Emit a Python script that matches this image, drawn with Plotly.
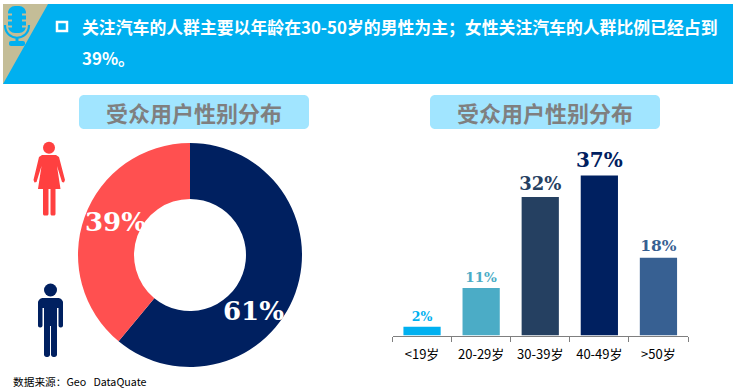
import plotly.graph_objects as go

W, H = 733, 389
CJK = "Noto Sans CJK SC"
SERIF = "DejaVu Serif"

headline_1 = "关注汽车的人群主要以年龄在30-50岁的男性为主；女性关注汽车的人群比例已经占到"
headline_2 = "39%。"
panel_title = "受众用户性别分布"
source_text = "数据来源：Geo   DataQuate"

gender_labels = ["男", "女"]
gender_values = [61, 39]
gender_colors = ["#002060", "#FF5050"]

age_labels = ["<19岁", "20-29岁", "30-39岁", "40-49岁", ">50岁"]
age_values = [2, 11, 32, 37, 18]
age_colors = ["#00B0F0", "#4BACC6", "#254061", "#002060", "#376092"]
age_font_sizes = [12.5, 13.5, 18, 20, 15.5]


def fx(x):
    return x / W


def fy(y):
    return 1 - y / H


def path(points):
    return "M" + " L".join(f"{fx(x):.5f},{fy(y):.5f}" for x, y in points) + " Z"


def rounded(x0, y0, x1, y1, r):
    k = 0.45 * r
    seq = [
        f"M{fx(x0 + r):.5f},{fy(y0):.5f}", f"L{fx(x1 - r):.5f},{fy(y0):.5f}",
        f"C{fx(x1 - k):.5f},{fy(y0):.5f} {fx(x1):.5f},{fy(y0 + k):.5f} {fx(x1):.5f},{fy(y0 + r):.5f}",
        f"L{fx(x1):.5f},{fy(y1 - r):.5f}",
        f"C{fx(x1):.5f},{fy(y1 - k):.5f} {fx(x1 - k):.5f},{fy(y1):.5f} {fx(x1 - r):.5f},{fy(y1):.5f}",
        f"L{fx(x0 + r):.5f},{fy(y1):.5f}",
        f"C{fx(x0 + k):.5f},{fy(y1):.5f} {fx(x0):.5f},{fy(y1 - k):.5f} {fx(x0):.5f},{fy(y1 - r):.5f}",
        f"L{fx(x0):.5f},{fy(y0 + r):.5f}",
        f"C{fx(x0):.5f},{fy(y0 + k):.5f} {fx(x0 + k):.5f},{fy(y0):.5f} {fx(x0 + r):.5f},{fy(y0):.5f}", "Z",
    ]
    return " ".join(seq)


def sh_path(d, color, layer="below"):
    return dict(type="path", path=d, xref="paper", yref="paper", fillcolor=color,
                line=dict(width=0), layer=layer)


def sh_rect(x0, y0, x1, y1, color, line=None, lw=0):
    return dict(type="rect", xref="paper", yref="paper", x0=fx(x0), x1=fx(x1), y0=fy(y0), y1=fy(y1),
                fillcolor=color, line=dict(width=lw, color=line) if lw else dict(width=0), layer="below")


def sh_circle(cx, cy, r, color):
    return dict(type="circle", xref="paper", yref="paper", x0=fx(cx - r), x1=fx(cx + r),
                y0=fy(cy + r), y1=fy(cy - r), fillcolor=color, line=dict(width=0), layer="below")


TAN = "#C4BD97"
BLUE = "#00B0F0"
WOMAN = "#FF4040"
MAN = "#002060"

mic_arc = (f"M{fx(5):.5f},{fy(25):.5f} C{fx(5):.5f},{fy(42):.5f} {fx(29):.5f},{fy(42):.5f} "
           f"{fx(29):.5f},{fy(25):.5f}")

shapes = [
    sh_rect(3, 4, 733, 84, BLUE),
    sh_path(path([(3, 4), (48, 4), (3, 84)]), TAN),
    # microphone
    sh_path(rounded(8, 6, 26, 33, 7), BLUE),
    dict(type="path", path=mic_arc, xref="paper", yref="paper", line=dict(color=BLUE, width=2.2), layer="below"),
    sh_rect(15.5, 37, 18.5, 42, BLUE),
    sh_path(rounded(9, 41, 25, 46, 2), BLUE),
    sh_rect(7, 13.5, 12, 15.5, TAN), sh_rect(7, 19.5, 12, 21.5, TAN), sh_rect(7, 25.5, 12, 27.5, TAN),
    sh_rect(22, 13.5, 27, 15.5, TAN), sh_rect(22, 19.5, 27, 21.5, TAN), sh_rect(22, 25.5, 27, 27.5, TAN),
    # bullet
    sh_rect(57, 22, 67, 31, "rgba(0,0,0,0)", "#FFFFFF", 2.5),
    # title pills
    sh_path(rounded(79, 95, 309, 129, 5), "#A1E5FF"),
    sh_path(rounded(430, 95, 660, 129, 5), "#A1E5FF"),
    # woman icon
    sh_circle(49, 147.7, 6, WOMAN),
    sh_path(path([(42, 155), (56, 155), (59, 157), (65, 180), (64, 182.5), (62, 182), (57, 166), (60.5, 189),
                  (38, 189), (41.5, 166), (36.5, 182), (34.5, 182.5), (33.5, 180), (39, 157)]), WOMAN),
    sh_path(rounded(43, 186, 48.5, 215.5, 1.5), WOMAN),
    sh_path(rounded(50.5, 186, 55.5, 215.5, 1.5), WOMAN),
    # man icon
    sh_circle(50.5, 290, 6.5, MAN),
    sh_path(rounded(38, 298, 63, 308, 5), MAN),
    sh_path(rounded(38, 301, 42.5, 327.5, 2), MAN),
    sh_path(rounded(58.5, 301, 63, 327.5, 2), MAN),
    sh_rect(44, 299, 57, 326, MAN),
    sh_path(rounded(44, 320, 50, 357, 2.5), MAN),
    sh_path(rounded(51, 320, 57, 357, 2.5), MAN),
]

fig = go.Figure()

fig.add_trace(go.Pie(
    labels=gender_labels, values=gender_values, marker=dict(colors=gender_colors, line=dict(width=0)),
    hole=0.5, sort=False, direction="clockwise", rotation=0, textinfo="none", showlegend=False,
    domain=dict(x=[fx(78), fx(302)], y=[fy(367), fy(143)]),
))

fig.add_trace(go.Bar(
    x=age_labels, y=age_values, marker=dict(color=age_colors, line=dict(width=0)),
    text=[f"<b>{v}%</b>" for v in age_values], textposition="outside", cliponaxis=False,
    constraintext="none",
    textfont=dict(family=SERIF, size=age_font_sizes, color=age_colors), showlegend=False,
))

annotations = []


def note(x, y, text, size, color, family=CJK, anchor="left"):
    annotations.append(dict(x=fx(x), y=fy(y), xref="paper", yref="paper", text=text, showarrow=False,
                            xanchor=anchor, yanchor="middle", align="left",
                            font=dict(family=family, size=size, color=color)))


note(80, 26.5, f"<b>{headline_1}</b>", 16.85, "#FFFFFF")
note(80, 57, f"<b>{headline_2}</b>", 16.85, "#FFFFFF")
note(194, 112, f"<b>{panel_title}</b>", 22, "#7F7F7F", anchor="center")
note(545, 112, f"<b>{panel_title}</b>", 22, "#7F7F7F", anchor="center")
note(115, 222, f"<b>{gender_values[1]}%</b>", 26, "#FFFFFF", SERIF, "center")
note(253, 311, f"<b>{gender_values[0]}%</b>", 26, "#FFFFFF", SERIF, "center")
note(10.5, 381, source_text, 10.7, "#000000")

fig.update_layout(
    width=W, height=H, margin=dict(l=0, r=0, t=0, b=0), paper_bgcolor="white", plot_bgcolor="white",
    showlegend=False, bargap=0.37, shapes=shapes, annotations=annotations,
    xaxis=dict(domain=[fx(392.5), fx(688)], type="category", showgrid=False, zeroline=False, showline=True,
               linecolor="#7F7F7F", linewidth=1, ticks="outside", tickson="boundaries", ticklen=5,
               tickcolor="#7F7F7F", tickfont=dict(family=CJK, size=13, color="#000000"), anchor="y",
               ticklabelstandoff=7),
    yaxis=dict(domain=[fy(335.5), fy(140)], range=[0, 45.2], visible=False, fixedrange=True),
)

fig.write_html("out.html", config=dict(displayModeBar=False),
               post_script="document.body.style.margin='0';document.body.style.overflow='hidden';")
